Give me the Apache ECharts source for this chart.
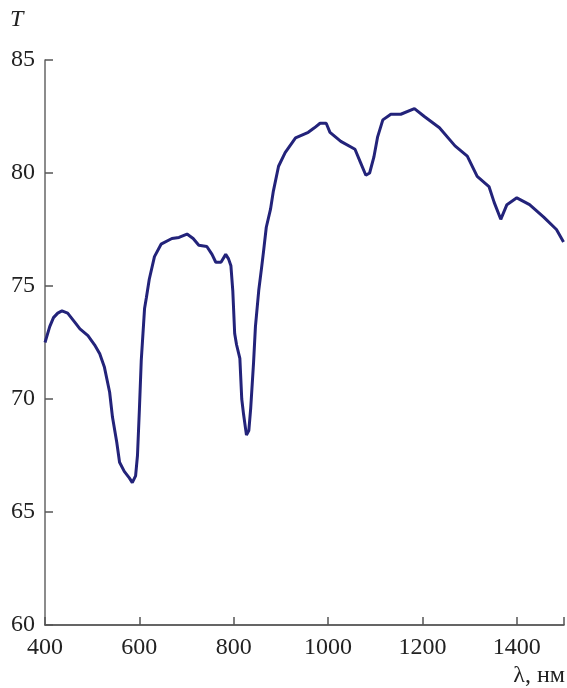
<!DOCTYPE html>
<html>
<head>
<meta charset="utf-8">
<script src="https://cdn.jsdelivr.net/npm/echarts@6/dist/echarts.min.js"></script>
<style>html,body{margin:0;padding:0;background:#fff}#c{width:567px;height:688px}</style>
</head>
<body>
<div id="c"></div>
<script>
const wavelength = [400,410,418,427,436,448,463,474,491,505,516,526,537,543,552,558,568,579,585,592,596,600,604,611,615,621,632,646,669,684,701,714,726,743,754,762,773,783,789,794,798,802,806,813,817,821,825,827,832,836,842,846,853,859,863,869,878,884,895,909,931,958,971,983,996,1004,1027,1057,1069,1080,1088,1097,1105,1116,1133,1154,1183,1204,1236,1269,1295,1316,1341,1352,1366,1379,1400,1427,1457,1484,1499];
const transmittance = [72.5,73.2,73.6,73.8,73.9,73.8,73.4,73.1,72.8,72.4,72.0,71.4,70.3,69.2,68.1,67.2,66.8,66.5,66.3,66.6,67.5,69.5,71.7,74.0,74.5,75.3,76.3,76.85,77.1,77.15,77.3,77.1,76.8,76.75,76.4,76.05,76.05,76.4,76.2,75.9,74.8,72.9,72.4,71.8,70.0,69.3,68.7,68.4,68.6,69.6,71.6,73.2,74.8,75.8,76.5,77.6,78.4,79.2,80.3,80.9,81.55,81.8,82.0,82.2,82.2,81.8,81.4,81.05,80.45,79.9,80.0,80.7,81.6,82.35,82.6,82.6,82.85,82.5,82.0,81.2,80.75,79.85,79.4,78.7,77.95,78.6,78.9,78.6,78.05,77.5,76.95];
const xTicks = [400,600,800,1000,1200,1400];
const yTicks = [60,65,70,75,80,85];

const chart = echarts.init(document.getElementById('c'), null, {renderer:'canvas'});
const fontFam = '"Liberation Serif","DejaVu Serif",serif';
chart.setOption({
  animation:false,
  backgroundColor:'#fff',
  grid:{left:45,right:0,top:60,bottom:63,containLabel:false},
  xAxis:{
    type:'value',min:400,max:1500,interval:200,
    axisLine:{show:true,lineStyle:{color:'#333',width:1.5}},
    axisTick:{show:true,inside:true,length:8,lineStyle:{color:'#555',width:1.5}},
    axisLabel:{color:'#222',fontFamily:fontFam,fontSize:24,margin:11,
      formatter:v=>xTicks.includes(v)?String(v):''},
    splitLine:{show:false}
  },
  yAxis:{
    type:'value',min:60,max:85,interval:5,
    axisLine:{show:true,lineStyle:{color:'#666',width:1.5}},
    axisTick:{show:true,inside:true,length:8,lineStyle:{color:'#555',width:1.5}},
    axisLabel:{color:'#222',fontFamily:fontFam,fontSize:24,margin:10,
      formatter:v=>yTicks.includes(v)?String(v):''},
    splitLine:{show:false}
  },
  graphic:[
    {type:'text',left:10,top:8,style:{text:'T',font:'italic 24px '+fontFam,fill:'#222'}},
    {type:'text',right:2,top:664,style:{text:'λ, нм',font:'24px '+fontFam,fill:'#222'}}
  ],
  series:[{
    type:'line',
    data:wavelength.map((w,i)=>[w,transmittance[i]]),
    showSymbol:false,
    lineStyle:{color:'#23237a',width:3},
    clip:true
  }]
});
</script>
</body>
</html>
